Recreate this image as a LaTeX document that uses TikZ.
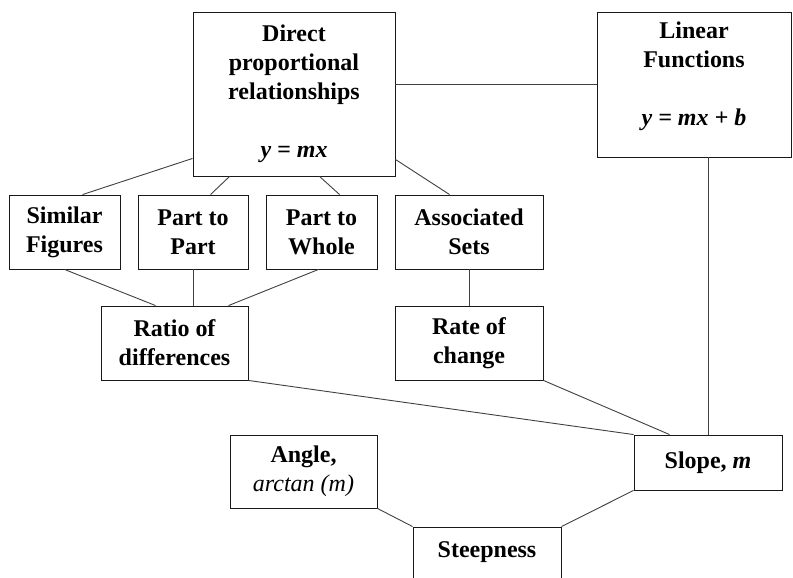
\documentclass[tikz,border=0pt]{standalone}
\usepackage{fontspec}
\setmainfont{Liberation Serif}
\begin{document}
\begin{tikzpicture}[x=1pt,y=1pt,
  box/.style={draw=black!90, line width=0.9pt, align=center, inner sep=0pt,
    font=\bfseries\fontsize{24}{29}\selectfont},
  conn/.style={draw=black!75, line width=0.9pt}]
\useasboundingbox (0,0) rectangle (793,-578);
\clip (0,0) rectangle (793,-578);
\node[box, minimum width=202pt, minimum height=164pt] (direct) at (294,-94)
  {Direct\\proportional\\relationships\\[29pt] \textit{y = mx}};
\node[box, minimum width=194pt, minimum height=145pt] (linear) at (694,-84.5)
  {Linear\\Functions\\[29pt] \textit{y = mx + b}\\[-8pt] \mbox{}};
\node[box, minimum width=111pt, minimum height=74pt] (similar) at (64.5,-232) {Similar\\Figures};
\node[box, minimum width=110pt, minimum height=74pt] (p2p) at (193,-232) {Part to\\Part};
\node[box, minimum width=111pt, minimum height=74pt] (p2w) at (321.5,-232) {Part to\\Whole};
\node[box, minimum width=148pt, minimum height=74pt] (assoc) at (469,-232) {Associated\\Sets};
\node[box, minimum width=147pt, minimum height=74pt] (ratio) at (174.5,-343) {Ratio of\\differences};
\node[box, minimum width=148pt, minimum height=74pt] (rate) at (469,-343) {Rate of\\change};
\node[box, minimum width=148pt, minimum height=55pt] (slope) at (708,-462.5) {Slope, \textit{m}};
\node[box, minimum width=147pt, minimum height=73pt] (angle) at (303.5,-471.5) {Angle,\\{\mdseries\itshape arctan (m)}};
\node[box, minimum width=148pt, minimum height=74pt] (steep) at (487,-564) {Steepness\\ \mbox{}};
\draw[conn] (direct.east |- linear.west) -- (linear.west);
\draw[conn] ([yshift=18pt]direct.south west) -- ([xshift=74pt]similar.north west);
\draw[conn] ([xshift=37pt]direct.south west) -- ([xshift=73pt]p2p.north west);
\draw[conn] ([xshift=127pt]direct.south west) -- ([xshift=74pt]p2w.north west);
\draw[conn] ([yshift=17pt]direct.south east) -- ([xshift=55pt]assoc.north west);
\draw[conn] (similar.south) -- ([xshift=55pt]ratio.north west);
\draw[conn] (p2p.south) -- (p2p.south |- ratio.north);
\draw[conn] ([xshift=-3pt]p2w.south) -- ([xshift=128pt]ratio.north west);
\draw[conn] (assoc.south) -- (rate.north);
\draw[conn] (ratio.south east) -- (slope.north west);
\draw[conn] (rate.south east) -- ([xshift=36pt]slope.north west);
\draw[conn] (slope.north |- linear.south) -- (slope.north);
\draw[conn] (angle.south east) -- (steep.north west);
\draw[conn] (slope.south west) -- (steep.north east);
\end{tikzpicture}
\end{document}
